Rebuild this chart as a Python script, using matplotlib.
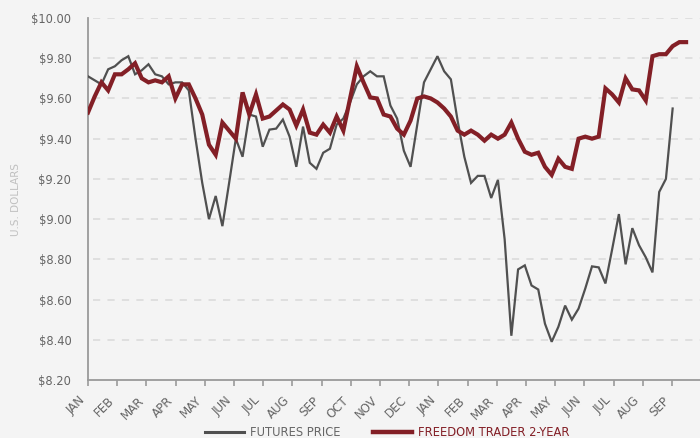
import numpy as np
import matplotlib.pyplot as plt
from matplotlib.lines import Line2D

# weekly values, first point = first week of JAN
FUTURES = [
    9.71, 9.69, 9.67, 9.745, 9.76, 9.79, 9.81, 9.72, 9.74, 9.77,
    9.72, 9.71, 9.67, 9.68, 9.68, 9.64, 9.40, 9.18, 9.00, 9.115,
    8.965, 9.18, 9.40, 9.31, 9.52, 9.51, 9.36, 9.445, 9.45, 9.495,
    9.41, 9.26, 9.46, 9.28, 9.25, 9.33, 9.35, 9.47, 9.50, 9.58,
    9.67, 9.71, 9.735, 9.71, 9.71, 9.565, 9.50, 9.34, 9.26, 9.47,
    9.68, 9.745, 9.81, 9.735, 9.695, 9.49, 9.31, 9.18, 9.215, 9.215,
    9.105, 9.195, 8.90, 8.42, 8.75, 8.77, 8.67, 8.65, 8.48, 8.39,
    8.465, 8.57, 8.50, 8.555, 8.655, 8.765, 8.76, 8.68, 8.85, 9.025,
    8.775, 8.955, 8.87, 8.81, 8.735, 9.135, 9.20, 9.55,
]

FREEDOM = [
    9.53, 9.61, 9.68, 9.64, 9.72, 9.72, 9.745, 9.775, 9.70, 9.68,
    9.69, 9.68, 9.71, 9.60, 9.67, 9.67, 9.60, 9.52, 9.37, 9.32,
    9.48, 9.44, 9.40, 9.63, 9.52, 9.62, 9.50, 9.51, 9.54, 9.57,
    9.545, 9.465, 9.545, 9.43, 9.42, 9.47, 9.43, 9.51, 9.44, 9.60,
    9.76, 9.68, 9.605, 9.60, 9.52, 9.51, 9.45, 9.42, 9.49, 9.60,
    9.61, 9.60, 9.58, 9.55, 9.51, 9.44, 9.42, 9.44, 9.42, 9.39,
    9.42, 9.40, 9.42, 9.48, 9.40, 9.335, 9.32, 9.33, 9.26, 9.22,
    9.30, 9.26, 9.25, 9.40, 9.41, 9.40, 9.41, 9.65, 9.62, 9.58,
    9.70, 9.645, 9.64, 9.59, 9.81, 9.82, 9.82, 9.86, 9.88, 9.88,
]

MONTHS = ["JAN", "FEB", "MAR", "APR", "MAY", "JUN", "JUL", "AUG", "SEP",
          "OCT", "NOV", "DEC", "JAN", "FEB", "MAR", "APR", "MAY", "JUN",
          "JUL", "AUG", "SEP"]

Y_TICKS = [8.2, 8.4, 8.6, 8.8, 9.0, 9.2, 9.4, 9.6, 9.8, 10.0]

WEEKS_PER_MONTH = 4.345

BG = "#f4f4f4"
GRAY = "#505050"
RED = "#831f26"
TEXT = "#656565"


def main():
    fig = plt.figure(figsize=(7.0, 4.38), dpi=100, facecolor=BG)
    ax = fig.add_axes([88 / 700, 1 - 380 / 438, 612 / 700, 362 / 438])
    ax.set_facecolor(BG)

    x_fut = np.arange(len(FUTURES))
    x_fre = np.arange(len(FREEDOM))

    ax.plot(x_fut, FUTURES, color=GRAY, linewidth=1.6, solid_joinstyle="miter",
            zorder=3)
    ax.plot(x_fre, FREEDOM, color=RED, linewidth=3.0, solid_joinstyle="miter",
            zorder=4)

    ax.set_xlim(0, 612 / 6.72)
    ax.set_ylim(8.2, 10.0)

    ax.set_yticks(Y_TICKS)
    ax.set_yticklabels([f"${v:.2f}" for v in Y_TICKS])
    ax.set_xticks(np.arange(len(MONTHS)) * WEEKS_PER_MONTH)
    ax.set_xticklabels(MONTHS, rotation=45, ha="right", va="top")

    for v in Y_TICKS[1:]:
        ax.axhline(v, color="#dddddd", linewidth=1.3, dashes=(4, 4),
                   xmin=0.008, zorder=1)

    ax.tick_params(axis="y", length=0, pad=12, labelsize=8.3, labelcolor=TEXT)
    ax.tick_params(axis="x", length=4, width=1.2, color="#9a9a9a", pad=6,
                   labelsize=8.6, labelcolor=TEXT)

    for side in ("top", "right"):
        ax.spines[side].set_visible(False)
    for side in ("left", "bottom"):
        ax.spines[side].set_color("#9a9a9a")
        ax.spines[side].set_linewidth(1.3)

    fig.text(16 / 700, 1 - 200 / 438, "U.S. DOLLARS", rotation=90,
             ha="center", va="center", fontsize=7.5, color="#c0c0c0")

    handles = [
        Line2D([0], [0], color=GRAY, linewidth=2.2, label="FUTURES PRICE"),
        Line2D([0], [0], color=RED, linewidth=3.2, label="FREEDOM TRADER 2-YEAR"),
    ]
    leg = fig.legend(handles=handles, loc="lower center", ncol=2,
                     bbox_to_anchor=(387 / 700, -0.025), frameon=False,
                     fontsize=8.3, handlelength=3.4, handletextpad=0.5,
                     columnspacing=2.8)
    leg.get_texts()[0].set_color("#666666")
    leg.get_texts()[1].set_color(RED)

    fig.savefig("out.png", dpi=100, facecolor=BG)


if __name__ == "__main__":
    main()
